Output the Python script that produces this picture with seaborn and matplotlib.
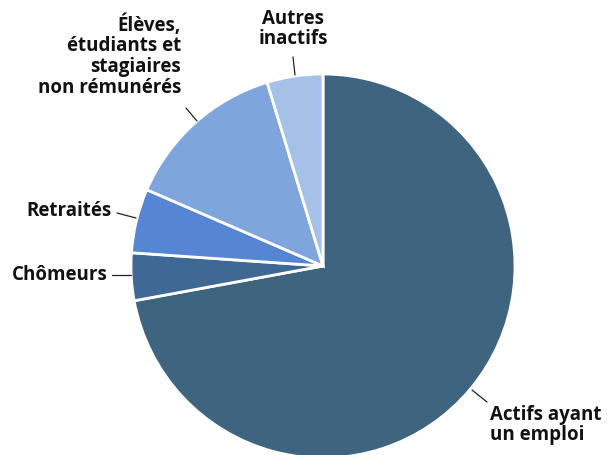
import matplotlib.pyplot as plt
import seaborn as sns

# Population by activity status (%)
categories = ["Actifs ayant\nun emploi", "Chômeurs", "Retraités",
              "Élèves,\nétudiants et\nstagiaires\nnon rémunérés", "Autres\ninactifs"]
shares = [72.1, 4.0, 5.4, 13.8, 4.7]
colors = ["#3e6480", "#3f6994", "#5585d3", "#7ea6dc", "#a6c1e8"]

sns.set_style("white")
plt.rcParams['font.family'] = ['Open Sans', 'DejaVu Sans']

fig = plt.figure(figsize=(6.07, 4.55), dpi=100)
ax = fig.add_axes([0, 0, 1, 1])

wedges, _ = ax.pie(shares, colors=sns.color_palette(colors), startangle=90,
                   counterclock=False, radius=1.0,
                   wedgeprops=dict(edgecolor="white", linewidth=2))


def px(x, y):
    # pixel position -> data coords (pie centre at 323,266, radius 192 px)
    return ((x - 323) / 192, (266 - y) / 192)


# label text position, alignment, leader line start/end (pixels)
label_layout = [
    ((490, 425), "left", (487, 402), (472, 390)),
    ((108, 275), "right", (112, 275), (131, 275)),
    ((112, 211), "right", (117, 213), (136, 218)),
    ((181, 56), "right", (186, 108), (197, 121)),
    ((293, 29), "center", (293, 57), (295, 75)),
]

for cat, (pos, ha, l0, l1) in zip(categories, label_layout):
    ax.text(*px(*pos), cat, ha=ha, va="center", fontsize=13.5, fontweight="bold",
            linespacing=1.05, color="#111111",
            multialignment="right" if ha == "right" else ha)
    (x0, y0), (x1, y1) = px(*l0), px(*l1)
    ax.plot([x0, x1], [y0, y1], color="#222222", linewidth=0.9)

ax.set_xlim(-323 / 192, (607 - 323) / 192)
ax.set_ylim(-(455 - 266) / 192, 266 / 192)
ax.set_aspect("equal")
ax.axis("off")

fig.savefig("out.png", dpi=100)
